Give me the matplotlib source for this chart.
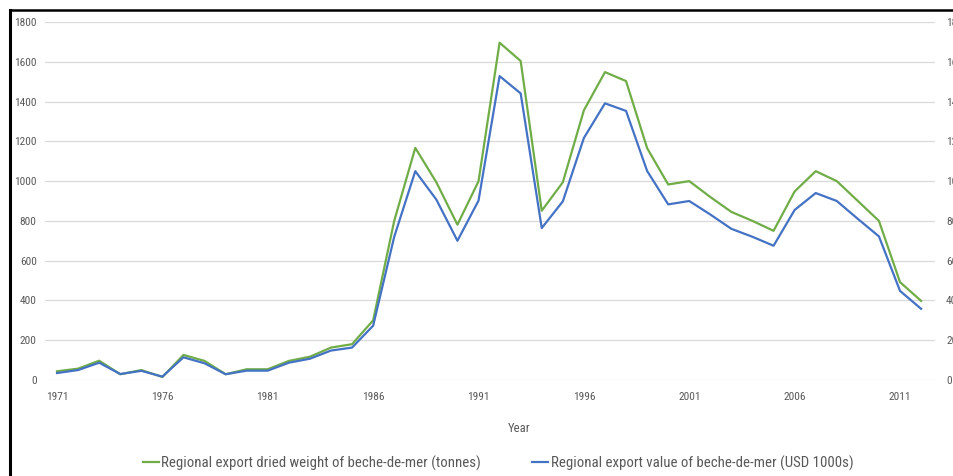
import matplotlib
matplotlib.use("Agg")
import matplotlib.pyplot as plt
from matplotlib.lines import Line2D
from matplotlib import font_manager
from matplotlib.font_manager import FontProperties
from matplotlib.textpath import TextPath

years = list(range(1971, 2013))
weight_tonnes = [44, 57, 97, 29, 50, 15, 126, 96, 29, 54, 54, 96, 117, 163, 180, 300,
                 800, 1167, 994, 781, 999, 1696, 1604, 851, 994, 1356, 1548, 1503, 1166,
                 983, 1000, 920, 845, 800, 750, 948, 1050, 1000, 900, 800, 492, 398]
value_usd1000 = [35, 50, 87, 30, 46, 17, 114, 84, 29, 47, 47, 87, 107, 148, 163, 273,
                 720, 1050, 907, 700, 902, 1528, 1441, 764, 898, 1217, 1391, 1353, 1051,
                 883, 900, 832, 760, 720, 675, 855, 940, 900, 810, 722, 448, 358]
x_ticks = [1971, 1976, 1981, 1986, 1991, 1996, 2001, 2006, 2011]
y_ticks = [0, 200, 400, 600, 800, 1000, 1200, 1400, 1600, 1800]
label_weight = "Regional export dried weight of beche-de-mer (tonnes)"
label_value = "Regional export value of beche-de-mer (USD 1000s)"
x_title = "Year"

names = {f.name for f in font_manager.fontManager.ttflist}
fam = "Lato"
for cand in ["Liberation Sans Narrow", "Roboto Condensed", "Open Sans Condensed",
             "Noto Sans Display", "Lato", "Roboto"]:
    if cand in names:
        fam = cand
        break
plt.rcParams["font.family"] = [fam, "DejaVu Sans"]


def size_for(text, target_px):
    w = TextPath((0, 0), text, size=10, prop=FontProperties(family=fam)).get_extents().width
    return 10 * target_px / (w * 100 / 72)


leg_size = size_for(label_weight, 318)
tick_size = min(size_for("1800", 21), leg_size * 0.85)
year_size = size_for(x_title, 22)

W, H = 954, 476
fig = plt.figure(figsize=(W / 100, H / 100), dpi=100)
ax = fig.add_axes([45 / W, 1 - 380 / H, (935 - 45) / W, (380 - 22) / H])

green = "#70AD47"
blue = "#4472C4"
txt = "#595959"

ax.plot(years, weight_tonnes, color=green, lw=1.6, label=label_weight, zorder=3)
ax.plot(years, value_usd1000, color=blue, lw=1.6, label=label_value, zorder=3)

ax.set_xlim(1970.43, 2012.66)
ax.set_ylim(0, 1800)
ax.set_yticks(y_ticks)
ax.set_xticks(x_ticks)
ax.grid(axis="y", color="#D9D9D9", lw=0.9)
ax.set_axisbelow(True)
for s in ax.spines.values():
    s.set_visible(False)
ax.tick_params(axis="both", length=0, labelsize=tick_size, colors=txt)
ax.tick_params(axis="y", pad=6)
ax.tick_params(axis="x", pad=9)

ax2 = ax.twinx()
ax2.set_ylim(0, 1800)
ax2.set_yticks(y_ticks)
for s in ax2.spines.values():
    s.set_visible(False)
ax2.tick_params(axis="y", length=0, labelsize=tick_size, colors=txt, pad=8)

fig.text(519 / W, 1 - 428 / H, x_title, ha="center", va="center", fontsize=year_size, color=txt)

handles = [Line2D([0], [0], color=green, lw=1.6), Line2D([0], [0], color=blue, lw=1.6)]
leg = fig.legend(handles, [label_weight, label_value], loc="center",
                 bbox_to_anchor=(498 / W, 1 - 463 / H), ncol=2, frameon=False,
                 fontsize=leg_size, handlelength=1.1, handletextpad=0.15, columnspacing=3.4,
                 borderaxespad=0, borderpad=0)
for t in leg.get_texts():
    t.set_color(txt)

fig.add_artist(Line2D([10.5 / W, 1], [1 - 10 / H, 1 - 10 / H], color="black", lw=1.8,
                      transform=fig.transFigure))
fig.add_artist(Line2D([10.5 / W, 10.5 / W], [0, 1 - 10 / H], color="black", lw=2.2,
                      transform=fig.transFigure))

fig.savefig("out.png", dpi=100)
